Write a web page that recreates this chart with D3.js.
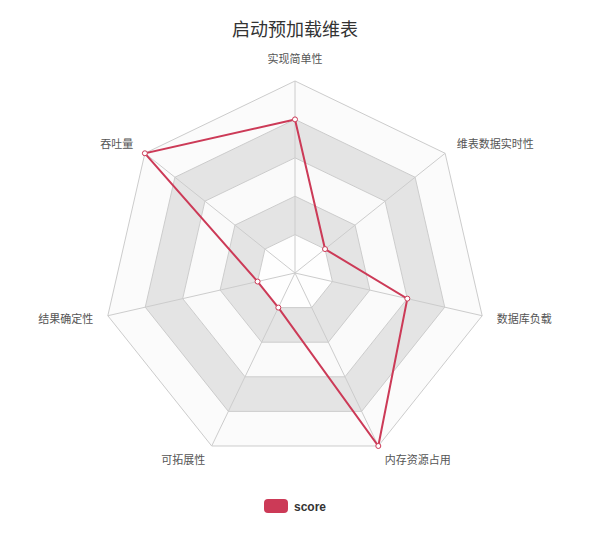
<!DOCTYPE html>
<html><head><meta charset="utf-8">
<script src="https://cdn.jsdelivr.net/npm/d3@7/dist/d3.min.js"></script>
<style>body{margin:0;background:#fff;}svg{display:block;font-family:"Noto Sans CJK SC","Noto Sans",sans-serif;}</style>
</head><body>
<svg id="c" width="600" height="540"></svg>
<script>
const title = "启动预加载维表";
const indicators = ["实现简单性","维表数据实时性","数据库负载","内存资源占用","可拓展性","结果确定性","吞吐量"];
const maxValue = 5;
const levels = [1,2,3,4,5];
const seriesName = "score";
const scores = [4,1,3,5,1,1,5];

const svg = d3.select("#c");
const cx = 295, cy = 273, R = 192;
const n = indicators.length;
const r = d3.scaleLinear().domain([0, maxValue]).range([0, R]);
const ang = i => -Math.PI/2 + i*2*Math.PI/n;
const pt = (i, v) => [cx + r(v)*Math.cos(ang(i)), cy + r(v)*Math.sin(ang(i))];
const lineColor = "#cc3a57";

// bands
const bandColors = ["#fefefe","#e4e4e4","#fafafa","#e4e4e4","#fbfbfb"];
const g = svg.append("g");
for (let k = levels.length-1; k >= 0; k--) {
  const outer = levels[k], inner = k>0 ? levels[k-1] : 0;
  const op = d3.range(n).map(i => pt(i, outer));
  const ip = d3.range(n).map(i => pt(i, inner)).reverse();
  let d = "M" + op.map(p=>p.join(",")).join("L") + "Z";
  if (inner > 0) d += "M" + ip.map(p=>p.join(",")).join("L") + "Z";
  g.append("path").attr("d", d).attr("fill", bandColors[k]).attr("fill-rule","evenodd");
}
// rings
levels.forEach(l => {
  g.append("polygon").attr("points", d3.range(n).map(i => pt(i,l).join(",")).join(" "))
    .attr("fill","none").attr("stroke","#cccccc").attr("stroke-width",1);
});
// axes
indicators.forEach((name,i) => {
  const p = pt(i, maxValue);
  g.append("line").attr("x1",cx).attr("y1",cy).attr("x2",p[0]).attr("y2",p[1])
    .attr("stroke","#cccccc").attr("stroke-width",1);
});
// labels
indicators.forEach((name,i) => {
  const a = ang(i), rr = R + 15;
  const x = cx + rr*Math.cos(a), y = cy + rr*Math.sin(a);
  const c = Math.cos(a);
  let anchor = Math.abs(c) < 0.05 ? "middle" : (c > 0 ? "start" : "end");
  let yy = y + 4;
  if (i === 0) yy = y - 3;
  g.append("text").attr("x", x).attr("y", yy).attr("text-anchor", anchor)
    .attr("font-size", 11).attr("fill", "#555").text(name);
});
// series line
const pts = scores.map((v,i) => pt(i,v));
svg.append("path").attr("d", d3.line().curve(d3.curveLinearClosed)(pts))
  .attr("fill","none").attr("stroke",lineColor).attr("stroke-width",2);
svg.selectAll("circle.m").data(pts).enter().append("circle").attr("class","m")
  .attr("cx",d=>d[0]).attr("cy",d=>d[1]).attr("r",2.5)
  .attr("fill","#fff").attr("stroke",lineColor).attr("stroke-width",1);

// title
svg.append("text").attr("x",295).attr("y",36).attr("text-anchor","middle")
  .attr("font-size",18).attr("fill","#333").text(title);
// legend
svg.append("rect").attr("x",264).attr("y",499).attr("width",24).attr("height",14).attr("rx",4)
  .attr("fill",lineColor);
svg.append("text").attr("x",294).attr("y",510.5).attr("font-size",12).attr("font-weight","bold")
  .attr("fill","#333").style("font-family","Helvetica, Arial, 'Liberation Sans', sans-serif").text(seriesName);
</script>
</body></html>
